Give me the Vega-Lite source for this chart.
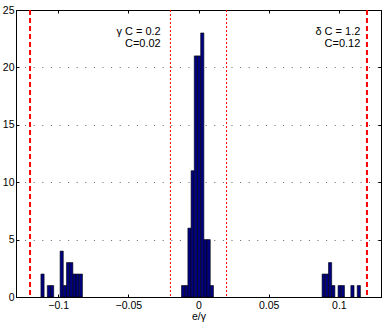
{
  "$schema": "https://vega.github.io/schema/vega-lite/v6.json",
  "width": 365,
  "height": 287,
  "autosize": {"type": "none"},
  "padding": {"left": 16, "top": 10, "right": 3, "bottom": 30},
  "config": {
    "font": "Liberation Sans",
    "view": {"stroke": "black", "strokeWidth": 1},
    "axis": {
      "domainColor": "black",
      "tickColor": "black",
      "labelColor": "black",
      "titleColor": "black",
      "labelFontSize": 10.5,
      "titleFontSize": 10.5,
      "titleFontWeight": "normal",
      "tickSize": -3,
      "labelFont": "Liberation Sans",
      "titleFont": "Liberation Sans"
    }
  },
  "resolve": {"axis": {"x": "independent", "y": "independent"}},
  "layer": [
    {
      "data": {"values": [
        {"lo": -0.11225, "hi": -0.10997, "n": 2},
        {"lo": -0.10770, "hi": -0.10542, "n": 1},
        {"lo": -0.10542, "hi": -0.10315, "n": 1},
        {"lo": -0.09859, "hi": -0.09632, "n": 4},
        {"lo": -0.09632, "hi": -0.09404, "n": 1},
        {"lo": -0.09404, "hi": -0.09177, "n": 3},
        {"lo": -0.09177, "hi": -0.08949, "n": 3},
        {"lo": -0.08949, "hi": -0.08722, "n": 2},
        {"lo": -0.08722, "hi": -0.08494, "n": 2},
        {"lo": -0.08494, "hi": -0.08266, "n": 2},
        {"lo": -0.01211, "hi": -0.00983, "n": 1},
        {"lo": -0.00983, "hi": -0.00756, "n": 1},
        {"lo": -0.00756, "hi": -0.00528, "n": 6},
        {"lo": -0.00528, "hi": -0.00301, "n": 11},
        {"lo": -0.00301, "hi": -0.00073, "n": 21},
        {"lo": -0.00073, "hi": 0.00155, "n": 21},
        {"lo": 0.00155, "hi": 0.00382, "n": 23},
        {"lo": 0.00382, "hi": 0.00610, "n": 5},
        {"lo": 0.00610, "hi": 0.00837, "n": 5},
        {"lo": 0.00837, "hi": 0.01065, "n": 1},
        {"lo": 0.08804, "hi": 0.09032, "n": 2},
        {"lo": 0.09032, "hi": 0.09259, "n": 2},
        {"lo": 0.09259, "hi": 0.09487, "n": 3},
        {"lo": 0.09487, "hi": 0.09715, "n": 1},
        {"lo": 0.09942, "hi": 0.10170, "n": 1},
        {"lo": 0.10170, "hi": 0.10397, "n": 1},
        {"lo": 0.10852, "hi": 0.11080, "n": 1},
        {"lo": 0.11307, "hi": 0.11535, "n": 1}
      ]},
      "mark": {"type": "bar", "fill": "#000080", "stroke": "black", "strokeWidth": 0.6},
      "encoding": {
        "x": {
          "field": "lo", "type": "quantitative",
          "scale": {"domain": [-0.13, 0.13], "nice": false, "zero": false},
          "axis": {
            "orient": "bottom",
            "values": [-0.1, -0.05, 0, 0.05, 0.1],
            "format": "~g",
            "grid": false,
            "title": "e/γ",
            "labelPadding": 6,
            "titlePadding": 1
          }
        },
        "x2": {"field": "hi"},
        "y": {
          "field": "n", "type": "quantitative",
          "scale": {"domain": [0, 25], "nice": false},
          "axis": {
            "orient": "left",
            "values": [0, 5, 10, 15, 20, 25],
            "grid": true,
            "gridColor": "#666666",
            "gridDash": [1, 7.6],
            "gridWidth": 1,
            "title": null,
            "labelPadding": 5
          }
        },
        "y2": {"datum": 0}
      }
    },
    {
      "data": {"values": [{"p": -0.12}, {"p": 0.12}]},
      "mark": {"type": "rule", "color": "#ff0000", "strokeWidth": 2, "strokeDash": [5, 3]},
      "encoding": {"x": {"field": "p", "type": "quantitative", "axis": null}}
    },
    {
      "data": {"values": [{"p": -0.02}, {"p": 0.02}]},
      "mark": {"type": "rule", "color": "#ff0000", "strokeWidth": 1, "strokeDash": [2, 2]},
      "encoding": {"x": {"field": "p", "type": "quantitative", "axis": null}}
    },
    {
      "data": {"values": [
        {"x": -0.0269, "y": 22.82, "t": "γ C = 0.2"},
        {"x": -0.0269, "y": 21.74, "t": "C=0.02"},
        {"x": 0.1153, "y": 22.82, "t": "δ C = 1.2"},
        {"x": 0.1153, "y": 21.74, "t": "C=0.12"}
      ]},
      "mark": {"type": "text", "align": "right", "baseline": "alphabetic", "fontSize": 11, "font": "Liberation Sans", "color": "black"},
      "encoding": {
        "x": {
          "field": "x", "type": "quantitative",
          "axis": {"orient": "top", "values": [-0.1, -0.05, 0, 0.05, 0.1], "labels": false, "title": null, "grid": false}
        },
        "y": {
          "field": "y", "type": "quantitative",
          "axis": {"orient": "right", "values": [0, 5, 10, 15, 20, 25], "labels": false, "title": null, "grid": false}
        },
        "text": {"field": "t"}
      }
    }
  ]
}
